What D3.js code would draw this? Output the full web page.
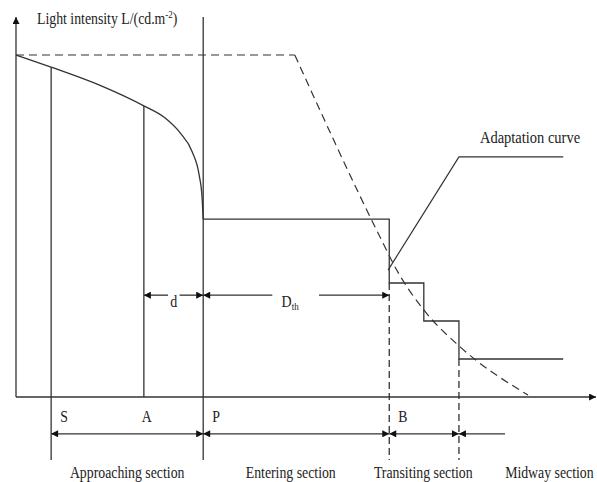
<!DOCTYPE html>
<html>
<head>
<meta charset="utf-8">
<script src="https://cdn.jsdelivr.net/npm/d3@7"></script>
<style>
  body { margin: 0; background: #fff; }
  svg { display: block; }
  text { font-family: "Liberation Serif", "Times New Roman", serif; fill: #222; }
</style>
</head>
<body>
<svg id="chart" width="597" height="482"></svg>
<script>
// distances along the tunnel (abstract units 0..100) and light levels (0..100)
const sectionNames = ["S", "A", "P", "B"];
const sectionX = [6.1, 22.2, 32.5, 64.8];
const midwayX = 76.9;

// luminance seen by the driver before the portal
const outsideX = [0, 6.1, 14.6, 22.2, 25.9, 28.5, 30.6, 31.8, 32.3, 32.5];
const outsideY = [90, 86.8, 82.0, 76.6, 73.4, 69.5, 64.5, 58.4, 52.6, 46.8];

// adaptation curve (dashed): flat part, then the falling part
const adaptFlatX = [0, 48.4];
const adaptFlatY = [90, 90];
const adaptX = [48.4, 63.2, 66.1, 70.8, 77.1, 88.9];
const adaptY = [90, 42.1, 33.4, 22.9, 13.2, 0.5];

// stepped tunnel lighting
const stepX = [32.5, 64.8, 70.8, 76.9, 95];
const stepY = [46.8, 30, 20, 10, 10];

// leader line for the label
const leaderX = [64.6, 76.9, 95];
const leaderY = [33.4, 63.2, 63.2];

const sectionLabels = ["Approaching section", "Entering section", "Transiting section", "Midway section"];
const sectionLabelX = [19.3, 47.7, 70.7, 92.6];

const svg = d3.select("#chart");
const x = d3.scaleLinear().domain([0, 100]).range([16, 592]);
const y = d3.scaleLinear().domain([0, 100]).range([397, 17]);
const stroke = "#333";
const stretch = 1.2; // the original lettering is drawn tall and narrow

// arrow markers
const defs = svg.append("defs");
function marker(id, orient) {
    defs.append("marker")
        .attr("id", id)
        .attr("viewBox", "0 0 10 10")
        .attr("refX", 10).attr("refY", 5)
        .attr("markerWidth", 9).attr("markerHeight", 7)
        .attr("markerUnits", "userSpaceOnUse")
        .attr("orient", orient)
        .append("path")
        .attr("d", "M0,0 L10,5 L0,10 Z")
        .attr("fill", "#111");
}
marker("arr", "auto");
marker("arrStart", "auto-start-reverse");

function seg(x1, y1, x2, y2, opts = {}) {
    const l = svg.append("line")
        .attr("x1", x(x1)).attr("y1", y(y1))
        .attr("x2", x(x2)).attr("y2", y(y2))
        .attr("stroke", opts.color || stroke)
        .attr("stroke-width", opts.w || 1.3);
    if (opts.dash) l.attr("stroke-dasharray", opts.dash);
    if (opts.end) l.attr("marker-end", "url(#arr)");
    if (opts.start) l.attr("marker-start", "url(#arrStart)");
    return l;
}

function label(px, py, str, size, anchor = "start") {
    return svg.append("text")
        .attr("transform", `translate(${px},${py}) scale(1,${stretch})`)
        .attr("font-size", size)
        .attr("text-anchor", anchor)
        .text(str);
}

function path(xs, ys, curve, dash, w = 1.3) {
    const p = svg.append("path")
        .datum(d3.zip(xs, ys))
        .attr("d", d3.line().x(d => x(d[0])).y(d => y(d[1])).curve(curve))
        .attr("fill", "none").attr("stroke", stroke).attr("stroke-width", w);
    if (dash) p.attr("stroke-dasharray", dash);
    return p;
}

// axes
seg(0, 0, 0, 100, {end: true});
seg(0, 0, 100.7, 0, {end: true});

// outside luminance curve
path(outsideX, outsideY, d3.curveMonotoneX);

// adaptation curve
path(adaptFlatX, adaptFlatY, d3.curveLinear, "8,5", 1.2);
path(adaptX, adaptY, d3.curveMonotoneX, "8,5", 1.2);

// tunnel lighting steps
path(stepX, stepY, d3.curveStepAfter);

// vertical section lines
const bottomY = -16.6;
seg(sectionX[0], outsideY[1], sectionX[0], bottomY);
seg(sectionX[1], outsideY[3], sectionX[1], 0);
seg(sectionX[2], 100, sectionX[2], bottomY);
seg(sectionX[3], stepY[1], sectionX[3], bottomY, {dash: "7,4"});
seg(midwayX, stepY[3], midwayX, bottomY, {dash: "7,4"});

// leader line
path(leaderX, leaderY, d3.curveLinear, null, 1.2);
label(x(leaderX[1]) + 21, 143, "Adaptation curve", 14.5);

// d and Dth dimension arrows
const dimY = 26.8;
seg(sectionX[1], dimY, 26.4, dimY, {start: true});
seg(28.4, dimY, sectionX[2], dimY, {end: true});
label(x(27.4), y(dimY) + 12, "d", 14, "middle");

seg(sectionX[2], dimY, 44.5, dimY, {start: true});
seg(52.6, dimY, sectionX[3], dimY, {end: true});
const dth = label(x(46.1), y(dimY) + 12, "", 14);
dth.append("tspan").text("D");
dth.append("tspan").attr("font-size", 9).attr("dy", 2.5).text("th");

// section dimension arrows
const secY = -9.7;
const secBounds = [sectionX[0], sectionX[2], sectionX[3], midwayX];
for (let i = 0; i < secBounds.length - 1; i++) {
    seg(secBounds[i], secY, secBounds[i + 1], secY, {start: true, end: true});
}
seg(midwayX, secY, 84.9, secY, {start: true});

// point letters
sectionNames.forEach((n, i) => {
    label(x(sectionX[i]) + (i === 1 ? -2 : 9), 422, n, 13.8);
});

// section names
sectionLabels.forEach((s, i) => {
    label(x(sectionLabelX[i]), 478, s, 13.8, "middle");
});

// axis title
const title = label(37, 24, "", 13.8);
title.append("tspan").text("Light intensity L/(cd.m");
title.append("tspan").attr("font-size", 9).attr("dy", -5).text("-2");
title.append("tspan").attr("dy", 5).text(")");
</script>
</body>
</html>
